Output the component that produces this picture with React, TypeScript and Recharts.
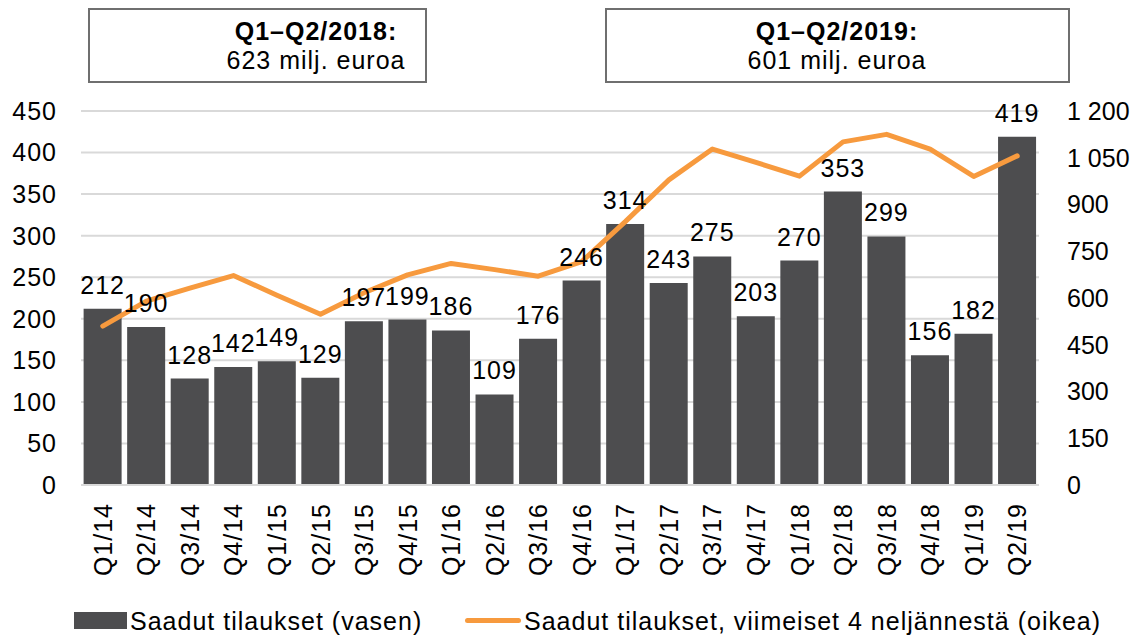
import React from "react";
import {
  ComposedChart,
  Bar,
  Line,
  XAxis,
  YAxis,
  CartesianGrid,
  Legend,
  LabelList,
} from "recharts";

const quarters = [
  "Q1/14", "Q2/14", "Q3/14", "Q4/14", "Q1/15", "Q2/15", "Q3/15", "Q4/15",
  "Q1/16", "Q2/16", "Q3/16", "Q4/16", "Q1/17", "Q2/17", "Q3/17", "Q4/17",
  "Q1/18", "Q2/18", "Q3/18", "Q4/18", "Q1/19", "Q2/19",
];
const orders = [
  212, 190, 128, 142, 149, 129, 197, 199, 186, 109, 176, 246, 314, 243, 275,
  203, 270, 353, 299, 156, 182, 419,
];
const rolling = [
  510, 590, 632, 672, 609, 548, 617, 674, 711, 691, 670, 717, 845, 979, 1078,
  1035, 991, 1101, 1125, 1078, 990, 1056,
];
const leftTicks = [0, 50, 100, 150, 200, 250, 300, 350, 400, 450];
const rightTicks = [0, 150, 300, 450, 600, 750, 900, 1050, 1200];
const seriesNames = [
  "Saadut tilaukset (vasen)",
  "Saadut tilaukset, viimeiset 4 neljännestä (oikea)",
];
const boxTitles = ["Q1–Q2/2018:", "Q1–Q2/2019:"];
const boxValues = ["623 milj. euroa", "601 milj. euroa"];

const data = quarters.map((q, i) => ({ q, orders: orders[i], rolling: rolling[i] }));

const FONT = '"Liberation Sans", Arial, sans-serif';
const FS = 25;
const LS = 1;
const BAR = "#4d4d4f";
const ORANGE = "#f79a3e";
const GRID = "#d9d9d9";

const fmtThousands = (v: number) =>
  String(v).replace(/\B(?=(\d{3})+(?!\d))/g, " ");

const XTick = (props: any) => {
  const { x, y, payload } = props;
  return (
    <text
      x={x}
      y={y}
      transform={`rotate(-90, ${x}, ${y})`}
      textAnchor="end"
      dy="0.36em"
      fill="#000"
      fontSize={FS}
      fontFamily={FONT}
      letterSpacing={LS}
    >
      {payload.value}
    </text>
  );
};

const LegendContent = () => (
  <div style={{ position: "relative", width: 1136, height: 52, fontFamily: FONT, fontSize: FS, letterSpacing: LS, color: "#000" }}>
    <div style={{ position: "absolute", left: 74, top: 27, width: 53, height: 17, background: BAR }} />
    <div style={{ position: "absolute", left: 130, top: 21, lineHeight: "30px", whiteSpace: "nowrap" }}>{seriesNames[0]}</div>
    <div style={{ position: "absolute", left: 465, top: 33, width: 56, height: 5, background: ORANGE, borderRadius: 3 }} />
    <div style={{ position: "absolute", left: 524, top: 21, lineHeight: "30px", whiteSpace: "nowrap" }}>{seriesNames[1]}</div>
  </div>
);

const boxStyle: React.CSSProperties = {
  position: "absolute",
  top: 8,
  height: 75,
  border: "2px solid #6f6f6f",
  boxSizing: "border-box",
  background: "#fff",
};

const textStyle = (cx: number, top: number, bold: boolean): React.CSSProperties => ({
  position: "absolute",
  left: cx,
  top,
  transform: "translateX(-50%)",
  whiteSpace: "nowrap",
  fontFamily: FONT,
  fontSize: FS,
  letterSpacing: LS,
  fontWeight: bold ? 700 : 400,
  lineHeight: "30px",
  color: "#000",
});

export default function App() {
  return (
    <div style={{ position: "absolute", left: 0, top: 0, width: 1136, height: 637, background: "#fff" }}>
      <ComposedChart
        width={1136}
        height={637}
        data={data}
        margin={{ top: 111, right: 0, left: 0, bottom: 0 }}
        barCategoryGap="6%"
      >
        <CartesianGrid yAxisId="left" vertical={false} stroke={GRID} strokeWidth={2} />
        <XAxis
          dataKey="q"
          interval={0}
          tickLine={false}
          tickSize={0}
          tickMargin={18}
          height={100}
          axisLine={{ stroke: GRID, strokeWidth: 2 }}
          tick={<XTick />}
        />
        <YAxis
          yAxisId="left"
          orientation="left"
          width={81}
          domain={[0, 450]}
          ticks={leftTicks}
          axisLine={false}
          tickLine={false}
          tickSize={0}
          tickMargin={24}
          tick={{ fill: "#000", fontSize: FS, fontFamily: FONT, letterSpacing: LS }}
        />
        <YAxis
          yAxisId="right"
          orientation="right"
          width={97}
          domain={[0, 1200]}
          ticks={rightTicks}
          axisLine={false}
          tickLine={false}
          tickSize={0}
          tickMargin={28}
          tickFormatter={fmtThousands}
          tick={{ fill: "#000", fontSize: FS, fontFamily: FONT, letterSpacing: 0 }}
        />
        <Bar yAxisId="left" dataKey="orders" name={seriesNames[0]} fill={BAR} isAnimationActive={false}>
          <LabelList
            dataKey="orders"
            position="top"
            offset={15}
            fill="#000"
            fontSize={FS}
            fontFamily={FONT}
            letterSpacing={LS}
          />
        </Bar>
        <Line
          yAxisId="right"
          dataKey="rolling"
          name={seriesNames[1]}
          stroke={ORANGE}
          strokeWidth={5}
          dot={false}
          activeDot={false}
          strokeLinejoin="round"
          strokeLinecap="round"
          isAnimationActive={false}
        />
        <Legend
          verticalAlign="bottom"
          content={<LegendContent />}
          wrapperStyle={{ left: 0, width: 1136, height: 52 }}
        />
      </ComposedChart>
      <div style={{ ...boxStyle, left: 88, width: 339 }} />
      <div style={textStyle(316, 16, true)}>{boxTitles[0]}</div>
      <div style={textStyle(316, 45, false)}>{boxValues[0]}</div>
      <div style={{ ...boxStyle, left: 605, width: 465 }} />
      <div style={textStyle(837, 16, true)}>{boxTitles[1]}</div>
      <div style={textStyle(837, 45, false)}>{boxValues[1]}</div>
    </div>
  );
}
